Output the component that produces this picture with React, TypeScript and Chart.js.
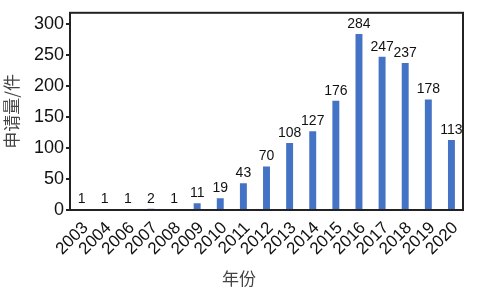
import React, { useEffect, useRef } from "react";
import { Chart, registerables } from "chart.js";

Chart.register(...registerables);

const years = ["2003", "2004", "2006", "2007", "2008", "2009", "2010", "2011", "2012", "2013", "2014", "2015", "2016", "2017", "2018", "2019", "2020"];
const counts = [1, 1, 1, 2, 1, 11, 19, 43, 70, 108, 127, 176, 284, 247, 237, 178, 113];
const yTitle = "申请量/件";
const xTitle = "年份";

const LATIN = "'Liberation Sans', Arial, sans-serif";
const CJK = "'Noto Sans CJK SC', sans-serif";

const extrasPlugin = {
  id: "extras",
  afterDatasetsDraw(chart: any) {
    const ctx = chart.ctx;
    const area = chart.chartArea;
    ctx.save();
    // value labels
    const meta = chart.getDatasetMeta(0);
    ctx.font = `14px ${LATIN}`;
    ctx.fillStyle = "#111";
    ctx.textAlign = "center";
    ctx.textBaseline = "bottom";
    meta.data.forEach((bar: any, i: number) => {
      ctx.fillText(String(counts[i]), bar.x, bar.y - 3);
    });
    // box
    ctx.strokeStyle = "#222";
    ctx.lineWidth = 2;
    ctx.strokeRect(area.left, area.top, area.right - area.left, area.bottom - area.top);
    // x title
    ctx.font = `17px ${CJK}`;
    ctx.fillStyle = "#444";
    ctx.textAlign = "center";
    ctx.textBaseline = "middle";
    ctx.fillText(xTitle, 239, 279);
    ctx.restore();
  },
};

export default function App() {
  const ref = useRef<HTMLCanvasElement>(null);
  useEffect(() => {
    if (!ref.current) return;
    const chart = new Chart(ref.current, {
      type: "bar",
      data: {
        labels: years,
        datasets: [
          {
            data: counts,
            backgroundColor: "#4472C4",
            categoryPercentage: 1,
            barPercentage: 0.3,
          },
        ],
      },
      options: {
        responsive: false,
        animation: false,
        layout: { padding: { left: 0, right: 17, top: 3, bottom: 0 } },
        plugins: {
          legend: { display: false },
          tooltip: { enabled: false },
        },
        scales: {
          x: {
            grid: { display: false },
            border: { display: false },
            ticks: {
              color: "#111",
              font: { family: LATIN, size: 17 },
              maxRotation: 45,
              minRotation: 45,
              autoSkip: false,
              padding: 0,
              labelOffset: 4,
            },
            afterFit(scale: any) {
              scale.height = 80;
            },
          },
          y: {
            min: 0,
            max: 318,
            grid: {
              display: true,
              drawOnChartArea: false,
              drawTicks: true,
              tickLength: 4,
              color: "#222",
              lineWidth: 2,
            },
            border: { display: false },
            ticks: {
              stepSize: 50,
              includeBounds: false,
              color: "#111",
              font: { family: LATIN, size: 18 },
              padding: 2,
            },
            title: {
              display: true,
              text: yTitle,
              color: "#444",
              font: { family: CJK, size: 17 },
              padding: { top: 1, bottom: 0 },
            },
            afterFit(scale: any) {
              scale.width = 70;
            },
          },
        },
      },
      plugins: [extrasPlugin],
    });
    return () => chart.destroy();
  }, []);
  return (
    <div style={{ position: "fixed", left: 0, top: 0, width: 480, height: 290, background: "#fff" }}>
      <canvas ref={ref} width={480} height={290} />
    </div>
  );
}
